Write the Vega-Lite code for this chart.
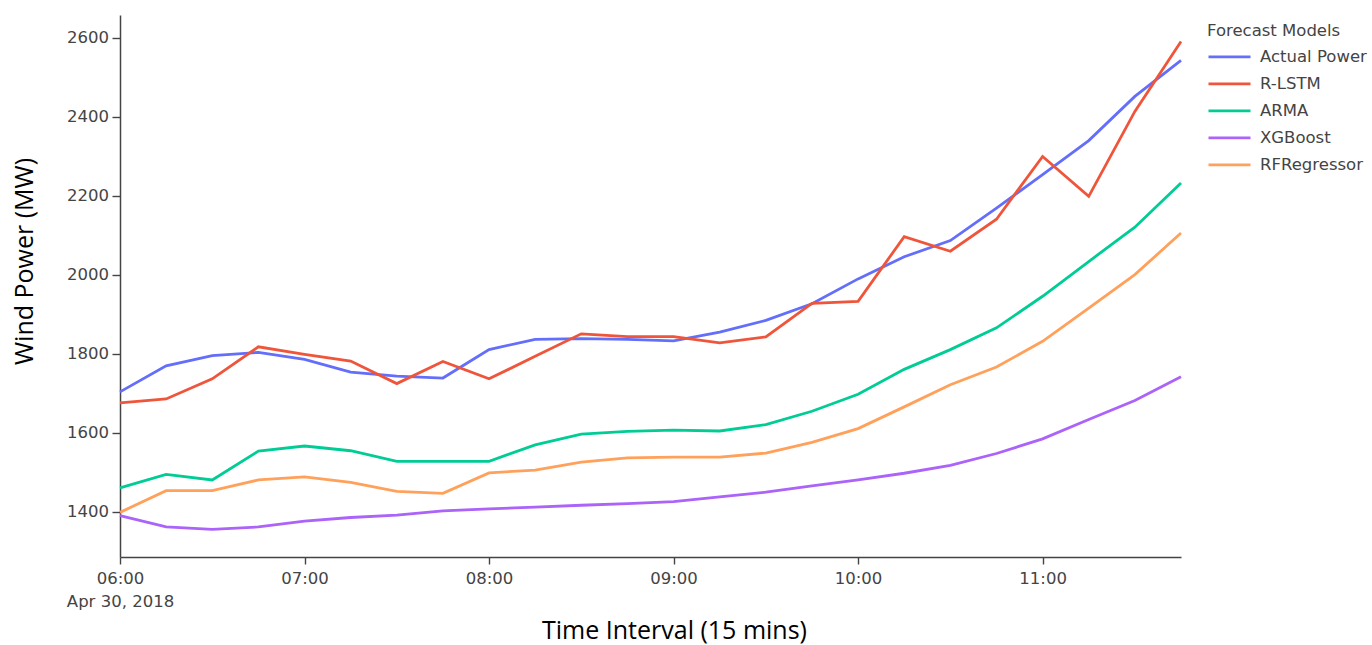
{
  "$schema": "https://vega.github.io/schema/vega-lite/v6.json",
  "width": 1061,
  "height": 542,
  "autosize": {"type": "none"},
  "padding": {"left": 120, "top": 15, "right": 191, "bottom": 88},
  "background": "white",
  "config": {
    "view": {"stroke": null},
    "font": "DejaVu Sans"
  },
  "data": {
    "values": [
      {"time": "2018-04-30T06:00:00", "model": "Actual Power", "power": 1703},
      {"time": "2018-04-30T06:15:00", "model": "Actual Power", "power": 1769},
      {"time": "2018-04-30T06:30:00", "model": "Actual Power", "power": 1795},
      {"time": "2018-04-30T06:45:00", "model": "Actual Power", "power": 1803},
      {"time": "2018-04-30T07:00:00", "model": "Actual Power", "power": 1785},
      {"time": "2018-04-30T07:15:00", "model": "Actual Power", "power": 1753},
      {"time": "2018-04-30T07:30:00", "model": "Actual Power", "power": 1743},
      {"time": "2018-04-30T07:45:00", "model": "Actual Power", "power": 1738},
      {"time": "2018-04-30T08:00:00", "model": "Actual Power", "power": 1810},
      {"time": "2018-04-30T08:15:00", "model": "Actual Power", "power": 1836},
      {"time": "2018-04-30T08:30:00", "model": "Actual Power", "power": 1838},
      {"time": "2018-04-30T08:45:00", "model": "Actual Power", "power": 1836},
      {"time": "2018-04-30T09:00:00", "model": "Actual Power", "power": 1832},
      {"time": "2018-04-30T09:15:00", "model": "Actual Power", "power": 1854},
      {"time": "2018-04-30T09:30:00", "model": "Actual Power", "power": 1884},
      {"time": "2018-04-30T09:45:00", "model": "Actual Power", "power": 1926},
      {"time": "2018-04-30T10:00:00", "model": "Actual Power", "power": 1989},
      {"time": "2018-04-30T10:15:00", "model": "Actual Power", "power": 2045},
      {"time": "2018-04-30T10:30:00", "model": "Actual Power", "power": 2086},
      {"time": "2018-04-30T10:45:00", "model": "Actual Power", "power": 2168},
      {"time": "2018-04-30T11:00:00", "model": "Actual Power", "power": 2253},
      {"time": "2018-04-30T11:15:00", "model": "Actual Power", "power": 2339},
      {"time": "2018-04-30T11:30:00", "model": "Actual Power", "power": 2451},
      {"time": "2018-04-30T11:45:00", "model": "Actual Power", "power": 2542},

      {"time": "2018-04-30T06:00:00", "model": "R-LSTM", "power": 1675},
      {"time": "2018-04-30T06:15:00", "model": "R-LSTM", "power": 1685},
      {"time": "2018-04-30T06:30:00", "model": "R-LSTM", "power": 1736},
      {"time": "2018-04-30T06:45:00", "model": "R-LSTM", "power": 1817},
      {"time": "2018-04-30T07:00:00", "model": "R-LSTM", "power": 1798},
      {"time": "2018-04-30T07:15:00", "model": "R-LSTM", "power": 1781},
      {"time": "2018-04-30T07:30:00", "model": "R-LSTM", "power": 1724},
      {"time": "2018-04-30T07:45:00", "model": "R-LSTM", "power": 1780},
      {"time": "2018-04-30T08:00:00", "model": "R-LSTM", "power": 1736},
      {"time": "2018-04-30T08:15:00", "model": "R-LSTM", "power": 1793},
      {"time": "2018-04-30T08:30:00", "model": "R-LSTM", "power": 1850},
      {"time": "2018-04-30T08:45:00", "model": "R-LSTM", "power": 1843},
      {"time": "2018-04-30T09:00:00", "model": "R-LSTM", "power": 1843},
      {"time": "2018-04-30T09:15:00", "model": "R-LSTM", "power": 1827},
      {"time": "2018-04-30T09:30:00", "model": "R-LSTM", "power": 1842},
      {"time": "2018-04-30T09:45:00", "model": "R-LSTM", "power": 1927},
      {"time": "2018-04-30T10:00:00", "model": "R-LSTM", "power": 1932},
      {"time": "2018-04-30T10:15:00", "model": "R-LSTM", "power": 2096},
      {"time": "2018-04-30T10:30:00", "model": "R-LSTM", "power": 2059},
      {"time": "2018-04-30T10:45:00", "model": "R-LSTM", "power": 2140},
      {"time": "2018-04-30T11:00:00", "model": "R-LSTM", "power": 2299},
      {"time": "2018-04-30T11:15:00", "model": "R-LSTM", "power": 2198},
      {"time": "2018-04-30T11:30:00", "model": "R-LSTM", "power": 2413},
      {"time": "2018-04-30T11:45:00", "model": "R-LSTM", "power": 2590},

      {"time": "2018-04-30T06:00:00", "model": "ARMA", "power": 1460},
      {"time": "2018-04-30T06:15:00", "model": "ARMA", "power": 1494},
      {"time": "2018-04-30T06:30:00", "model": "ARMA", "power": 1480},
      {"time": "2018-04-30T06:45:00", "model": "ARMA", "power": 1553},
      {"time": "2018-04-30T07:00:00", "model": "ARMA", "power": 1566},
      {"time": "2018-04-30T07:15:00", "model": "ARMA", "power": 1554},
      {"time": "2018-04-30T07:30:00", "model": "ARMA", "power": 1527},
      {"time": "2018-04-30T07:45:00", "model": "ARMA", "power": 1527},
      {"time": "2018-04-30T08:00:00", "model": "ARMA", "power": 1527},
      {"time": "2018-04-30T08:15:00", "model": "ARMA", "power": 1569},
      {"time": "2018-04-30T08:30:00", "model": "ARMA", "power": 1596},
      {"time": "2018-04-30T08:45:00", "model": "ARMA", "power": 1603},
      {"time": "2018-04-30T09:00:00", "model": "ARMA", "power": 1606},
      {"time": "2018-04-30T09:15:00", "model": "ARMA", "power": 1604},
      {"time": "2018-04-30T09:30:00", "model": "ARMA", "power": 1620},
      {"time": "2018-04-30T09:45:00", "model": "ARMA", "power": 1654},
      {"time": "2018-04-30T10:00:00", "model": "ARMA", "power": 1697},
      {"time": "2018-04-30T10:15:00", "model": "ARMA", "power": 1760},
      {"time": "2018-04-30T10:30:00", "model": "ARMA", "power": 1810},
      {"time": "2018-04-30T10:45:00", "model": "ARMA", "power": 1865},
      {"time": "2018-04-30T11:00:00", "model": "ARMA", "power": 1945},
      {"time": "2018-04-30T11:15:00", "model": "ARMA", "power": 2033},
      {"time": "2018-04-30T11:30:00", "model": "ARMA", "power": 2120},
      {"time": "2018-04-30T11:45:00", "model": "ARMA", "power": 2232},

      {"time": "2018-04-30T06:00:00", "model": "XGBoost", "power": 1390},
      {"time": "2018-04-30T06:15:00", "model": "XGBoost", "power": 1361},
      {"time": "2018-04-30T06:30:00", "model": "XGBoost", "power": 1355},
      {"time": "2018-04-30T06:45:00", "model": "XGBoost", "power": 1361},
      {"time": "2018-04-30T07:00:00", "model": "XGBoost", "power": 1376},
      {"time": "2018-04-30T07:15:00", "model": "XGBoost", "power": 1385},
      {"time": "2018-04-30T07:30:00", "model": "XGBoost", "power": 1391},
      {"time": "2018-04-30T07:45:00", "model": "XGBoost", "power": 1402},
      {"time": "2018-04-30T08:00:00", "model": "XGBoost", "power": 1407},
      {"time": "2018-04-30T08:15:00", "model": "XGBoost", "power": 1411},
      {"time": "2018-04-30T08:30:00", "model": "XGBoost", "power": 1416},
      {"time": "2018-04-30T08:45:00", "model": "XGBoost", "power": 1420},
      {"time": "2018-04-30T09:00:00", "model": "XGBoost", "power": 1425},
      {"time": "2018-04-30T09:15:00", "model": "XGBoost", "power": 1437},
      {"time": "2018-04-30T09:30:00", "model": "XGBoost", "power": 1449},
      {"time": "2018-04-30T09:45:00", "model": "XGBoost", "power": 1465},
      {"time": "2018-04-30T10:00:00", "model": "XGBoost", "power": 1480},
      {"time": "2018-04-30T10:15:00", "model": "XGBoost", "power": 1497},
      {"time": "2018-04-30T10:30:00", "model": "XGBoost", "power": 1517},
      {"time": "2018-04-30T10:45:00", "model": "XGBoost", "power": 1547},
      {"time": "2018-04-30T11:00:00", "model": "XGBoost", "power": 1584},
      {"time": "2018-04-30T11:15:00", "model": "XGBoost", "power": 1633},
      {"time": "2018-04-30T11:30:00", "model": "XGBoost", "power": 1681},
      {"time": "2018-04-30T11:45:00", "model": "XGBoost", "power": 1741},

      {"time": "2018-04-30T06:00:00", "model": "RFRegressor", "power": 1398},
      {"time": "2018-04-30T06:15:00", "model": "RFRegressor", "power": 1453},
      {"time": "2018-04-30T06:30:00", "model": "RFRegressor", "power": 1453},
      {"time": "2018-04-30T06:45:00", "model": "RFRegressor", "power": 1480},
      {"time": "2018-04-30T07:00:00", "model": "RFRegressor", "power": 1488},
      {"time": "2018-04-30T07:15:00", "model": "RFRegressor", "power": 1474},
      {"time": "2018-04-30T07:30:00", "model": "RFRegressor", "power": 1451},
      {"time": "2018-04-30T07:45:00", "model": "RFRegressor", "power": 1446},
      {"time": "2018-04-30T08:00:00", "model": "RFRegressor", "power": 1498},
      {"time": "2018-04-30T08:15:00", "model": "RFRegressor", "power": 1505},
      {"time": "2018-04-30T08:30:00", "model": "RFRegressor", "power": 1525},
      {"time": "2018-04-30T08:45:00", "model": "RFRegressor", "power": 1536},
      {"time": "2018-04-30T09:00:00", "model": "RFRegressor", "power": 1538},
      {"time": "2018-04-30T09:15:00", "model": "RFRegressor", "power": 1538},
      {"time": "2018-04-30T09:30:00", "model": "RFRegressor", "power": 1548},
      {"time": "2018-04-30T09:45:00", "model": "RFRegressor", "power": 1575},
      {"time": "2018-04-30T10:00:00", "model": "RFRegressor", "power": 1610},
      {"time": "2018-04-30T10:15:00", "model": "RFRegressor", "power": 1665},
      {"time": "2018-04-30T10:30:00", "model": "RFRegressor", "power": 1721},
      {"time": "2018-04-30T10:45:00", "model": "RFRegressor", "power": 1766},
      {"time": "2018-04-30T11:00:00", "model": "RFRegressor", "power": 1831},
      {"time": "2018-04-30T11:15:00", "model": "RFRegressor", "power": 1915},
      {"time": "2018-04-30T11:30:00", "model": "RFRegressor", "power": 2000},
      {"time": "2018-04-30T11:45:00", "model": "RFRegressor", "power": 2105}
    ]
  },
  "mark": {"type": "line", "strokeWidth": 2.8, "interpolate": "linear"},
  "encoding": {
    "x": {
      "field": "time",
      "type": "temporal",
      "scale": {
        "domain": [
          {"year": 2018, "month": 4, "date": 30, "hours": 6, "minutes": 0},
          {"year": 2018, "month": 4, "date": 30, "hours": 11, "minutes": 45}
        ],
        "nice": false
      },
      "axis": {
        "title": "Time Interval (15 mins)",
        "titleFont": "Open Sans",
        "titleFontSize": 25,
        "titleFontWeight": "normal",
        "titleColor": "#000000",
        "titleX": 554,
        "titleY": 73,
        "titleBaseline": "middle",
        "titleAnchor": null,
        "values": [
          {"year": 2018, "month": 4, "date": 30, "hours": 6},
          {"year": 2018, "month": 4, "date": 30, "hours": 7},
          {"year": 2018, "month": 4, "date": 30, "hours": 8},
          {"year": 2018, "month": 4, "date": 30, "hours": 9},
          {"year": 2018, "month": 4, "date": 30, "hours": 10},
          {"year": 2018, "month": 4, "date": 30, "hours": 11}
        ],
        "labelExpr": "hours(datum.value) == 6 ? [timeFormat(datum.value, '%H:%M'), 'Apr 30, 2018'] : timeFormat(datum.value, '%H:%M')",
        "labelFontSize": 16.5,
        "labelColor": "#444444",
        "labelLineHeight": 23,
        "labelPadding": 6,
        "labelFlush": false,
        "labelOverlap": false,
        "grid": false,
        "domainColor": "#444444",
        "domainWidth": 1.5,
        "tickColor": "#444444",
        "tickWidth": 1.4,
        "tickSize": 7
      }
    },
    "y": {
      "field": "power",
      "type": "quantitative",
      "scale": {"domain": [1285, 2657], "nice": false, "zero": false},
      "axis": {
        "title": "Wind Power (MW)",
        "titleFont": "Open Sans",
        "titleFontSize": 25,
        "titleFontWeight": "normal",
        "titleColor": "#000000",
        "titleX": -96,
        "titleY": 246,
        "titleBaseline": "middle",
        "titleAngle": -90,
        "titleAlign": "center",
        "titleAnchor": null,
        "values": [1400, 1600, 1800, 2000, 2200, 2400, 2600],
        "format": "d",
        "labelFontSize": 16.5,
        "labelColor": "#444444",
        "labelPadding": 3.5,
        "grid": false,
        "domainColor": "#444444",
        "domainWidth": 1.5,
        "tickColor": "#444444",
        "tickWidth": 1.4,
        "tickSize": 8
      }
    },
    "color": {
      "field": "model",
      "type": "nominal",
      "scale": {
        "domain": ["Actual Power", "R-LSTM", "ARMA", "XGBoost", "RFRegressor"],
        "range": ["#636efa", "#EF553B", "#00cc96", "#ab63fa", "#FFA15A"]
      },
      "legend": {
        "title": "Forecast Models",
        "orient": "none",
        "legendX": 1087,
        "legendY": 8,
        "padding": 0,
        "titleFontSize": 16.5,
        "titleFontWeight": "normal",
        "titleColor": "#444444",
        "titlePadding": 4,
        "labelFontSize": 16.5,
        "labelColor": "#444444",
        "labelOffset": 8,
        "symbolType": "stroke",
        "symbolSize": 1764,
        "symbolStrokeWidth": 2.8,
        "clipHeight": 26.75,
        "rowPadding": 0,
        "offset": 0
      }
    }
  }
}
